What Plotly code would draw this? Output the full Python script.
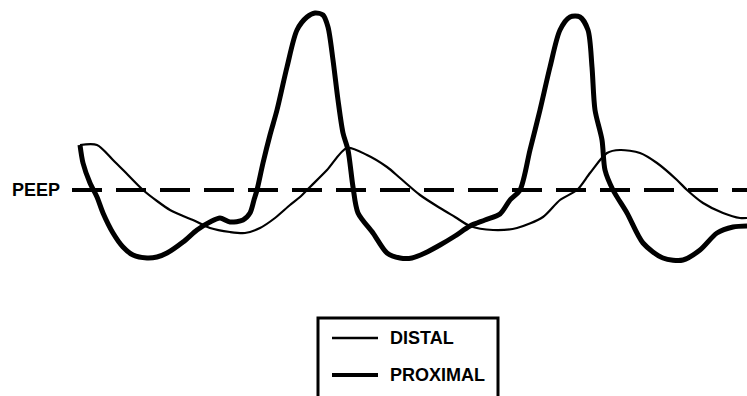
import plotly.graph_objects as go

# Waveform traces (pixel-like units: x left->right, y top->bottom)
proximal_x = [80, 83, 90, 97, 103, 113, 123, 133, 147, 157, 167, 183, 197, 210, 220, 230, 243, 250, 254, 257,
              263, 270, 277, 287, 297, 307, 315, 323, 328, 333, 338, 343, 348, 353, 358, 373, 387, 400, 412,
              425, 440, 455, 470, 485, 500, 510, 520, 530, 540, 550, 560, 570, 580, 588, 592, 595, 602, 605,
              613, 627, 643, 663, 683, 700, 717, 733, 747]
proximal_y = [145, 163, 183, 197, 213, 233, 247, 255, 258, 257, 253, 242, 230, 222, 218, 222, 220, 213, 200, 190,
              163, 135, 110, 67, 30, 17, 13, 15, 27, 60, 100, 133, 150, 187, 213, 233, 253, 258, 258,
              253, 245, 236, 226, 220, 214, 200, 190, 150, 110, 67, 30, 17, 17, 30, 67, 110, 140, 170,
              190, 213, 243, 258, 260, 250, 233, 227, 226]

distal_x = [80, 97, 113, 128, 143, 157, 170, 183, 193, 210, 230, 245, 260, 275, 290, 300, 310, 327, 347, 367,
            387, 400, 420, 440, 455, 470, 493, 517, 543, 560, 577, 590, 607, 620, 640, 657, 677, 687, 703,
            723, 740, 747]
distal_y = [145, 145, 160, 175, 190, 201, 210, 216, 220, 228, 232, 233, 228, 218, 205, 197, 187, 170, 148, 155,
            167, 178, 195, 208, 217, 226, 230, 228, 217, 200, 190, 173, 153, 150, 153, 163, 180, 190, 203,
            213, 218, 218]

peep_x = [72, 747]
peep_y = [190, 190]

legend_labels = ["DISTAL", "PROXIMAL"]

fig = go.Figure()
fig.add_trace(go.Scatter(x=peep_x, y=peep_y, mode="lines",
                         line=dict(color="black", width=4, dash="30px,14px"),
                         showlegend=False, hoverinfo="skip"))
fig.add_trace(go.Scatter(x=distal_x, y=distal_y, mode="lines", name="DISTAL",
                         line=dict(color="black", width=2.2, shape="spline", smoothing=0.8),
                         showlegend=False))
fig.add_trace(go.Scatter(x=proximal_x, y=proximal_y, mode="lines", name="PROXIMAL",
                         line=dict(color="black", width=5, shape="spline", smoothing=0.8),
                         showlegend=False))

font_bold = dict(family="Liberation Sans", size=18, color="black", weight="bold")

fig.add_annotation(x=62, y=190, text="PEEP", showarrow=False, xanchor="right", yanchor="middle",
                   font=font_bold)

# Legend box drawn manually
fig.add_shape(type="rect", x0=318, y0=318, x1=498, y1=430, line=dict(color="black", width=3))
fig.add_shape(type="line", x0=332, x1=378, y0=338, y1=338, line=dict(color="black", width=2.5))
fig.add_shape(type="line", x0=332, x1=378, y0=375, y1=375, line=dict(color="black", width=4))
fig.add_annotation(x=388, y=338, text=legend_labels[0], showarrow=False, xanchor="left", yanchor="middle",
                   font=font_bold)
fig.add_annotation(x=388, y=375, text=legend_labels[1], showarrow=False, xanchor="left", yanchor="middle",
                   font=font_bold)

fig.update_layout(
    width=747, height=396,
    margin=dict(l=0, r=0, t=0, b=0),
    paper_bgcolor="white", plot_bgcolor="white",
    xaxis=dict(range=[0, 747], visible=False, fixedrange=True),
    yaxis=dict(range=[396, 0], visible=False, fixedrange=True),
    showlegend=False,
)

fig.write_html("out.html", config={"displayModeBar": False},
               post_script="document.body.style.margin='0';document.body.style.overflow='hidden';")
